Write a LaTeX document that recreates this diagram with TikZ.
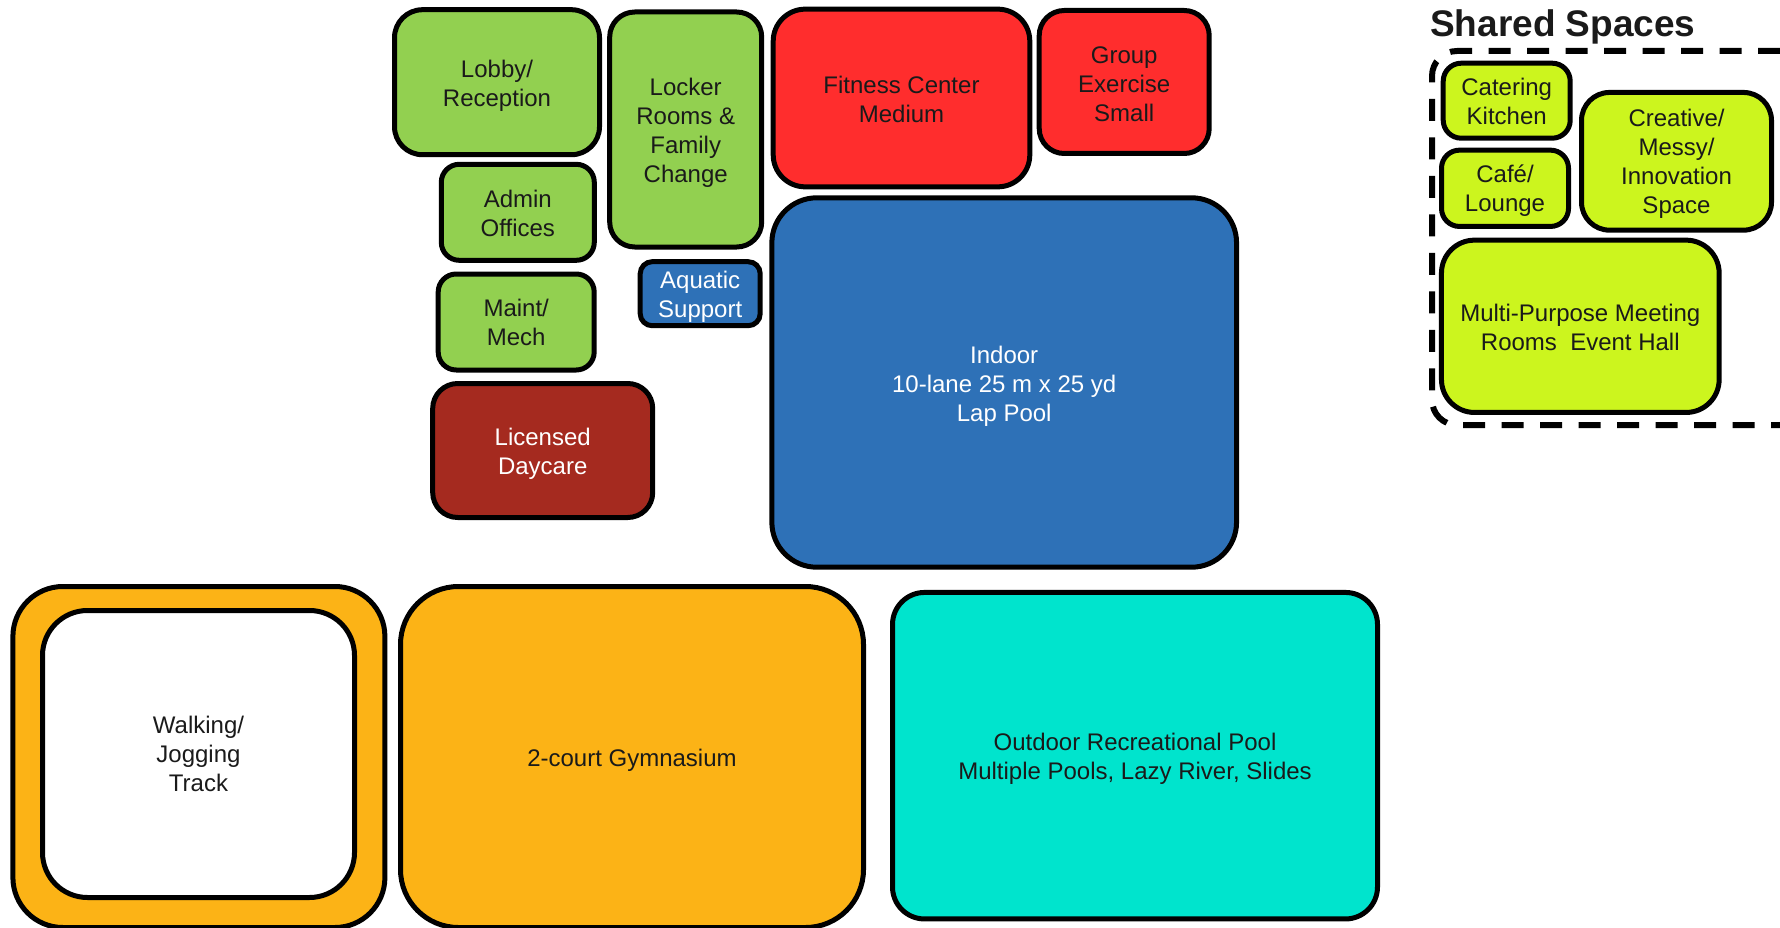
\documentclass[tikz,border=0pt]{standalone}
\usepackage{fontspec}
\setmainfont{Liberation Sans}
\definecolor{cgreen}{HTML}{92D050}
\definecolor{cred}{HTML}{FF2D2D}
\definecolor{cblue}{HTML}{2E71B7}
\definecolor{cday}{HTML}{A52A1F}
\definecolor{corange}{HTML}{FCB316}
\definecolor{cteal}{HTML}{00E4CD}
\definecolor{clime}{HTML}{CCF51E}
\definecolor{ctext}{HTML}{1A1A1A}
\begin{document}
\begin{tikzpicture}[x=1pt,y=-1pt,
  room/.style={draw=black, line width=5pt, inner sep=0pt},
  rt/.style={align=center, inner sep=0pt, font=\fontsize{24}{29}\selectfont, text=ctext, yshift=-3.5pt},
  rtw/.style={rt, text=white},
  frame/.style={draw=black, line width=6pt, dash pattern=on 22pt off 16.5pt, rounded corners=25pt, inner sep=0pt}]
\useasboundingbox (0,0) rectangle (1780,928);
\clip (0,0) rectangle (1780,928);
\fill[white] (0,0) rectangle (1780,928);

% upper block
\node[room, fill=cgreen, rounded corners=28pt, minimum width=205pt, minimum height=145pt,
  label={[rt]center:{Lobby/\\Reception}}] (lobby) at (497,82.2) {};
\node[room, fill=cgreen, rounded corners=25pt, minimum width=152pt, minimum height=235pt,
  label={[rt, yshift=0.5pt]center:{Locker\\Rooms \&\\Family\\Change}}] (locker) at (685.7,129.5) {};
\node[room, fill=cgreen, rounded corners=18pt, minimum width=153pt, minimum height=96pt,
  label={[rt, yshift=2.3pt]center:{Admin\\Offices}}] (admin) at (517.8,212.3) {};
\node[room, fill=cgreen, rounded corners=18pt, minimum width=156pt, minimum height=96pt,
  label={[rt, yshift=2.8pt]center:{Maint/\\Mech}}] (maint) at (516.2,322) {};
\node[room, fill=cblue, rounded corners=12pt, minimum width=120pt, minimum height=64pt,
  label={[rtw]center:{Aquatic\\Support}}] (aquatic) at (700.2,293.7) {};
\node[room, fill=cday, rounded corners=25pt, minimum width=220pt, minimum height=134pt,
  label={[rtw]center:{Licensed\\Daycare}}] (daycare) at (542.7,450.5) {};
\node[room, fill=cred, rounded corners=32pt, minimum width=256.6pt, minimum height=177.7pt,
  label={[rt, yshift=2.3pt]center:{Fitness Center\\Medium}}] (fitness) at (901.5,98) {};
\node[room, fill=cred, rounded corners=25pt, minimum width=170pt, minimum height=143pt,
  label={[rt, yshift=1.7pt]center:{Group\\Exercise\\Small}}] (group) at (1124.2,82) {};
\node[room, fill=cblue, rounded corners=45pt, minimum width=464.7pt, minimum height=369.4pt,
  label={[rtw]center:{Indoor\\10-lane 25 m x 25 yd\\Lap Pool}}] (lappool) at (1004.2,382.5) {};

% shared spaces
\node[anchor=base west, inner sep=0pt, font=\fontsize{37}{44}\selectfont\bfseries, text=ctext] (sharedtitle) at (1430,37) {Shared Spaces};
\node[frame, minimum width=373pt, minimum height=374pt] (sharedframe) at (1618.5,238) {};
\node[room, fill=clime, rounded corners=18pt, minimum width=127pt, minimum height=75pt,
  label={[rt, yshift=2.3pt]center:{Catering\\Kitchen}}] (catering) at (1506.7,100.7) {};
\node[room, fill=clime, rounded corners=18pt, minimum width=127pt, minimum height=76.3pt,
  label={[rt, yshift=1.1pt]center:{Café/\\Lounge}}] (cafe) at (1505,188.3) {};
\node[room, fill=clime, rounded corners=28pt, minimum width=190pt, minimum height=137.7pt,
  label={[rt, yshift=0.6pt]center:{Creative/\\Messy/\\Innovation\\Space}}] (creative) at (1676.5,161.3) {};
\node[room, fill=clime, rounded corners=33pt, minimum width=277.7pt, minimum height=172.3pt,
  label={[rt, yshift=2.3pt]center:{Multi-Purpose Meeting\\Rooms~ Event Hall}}] (multi) at (1580.3,326.3) {};

% bottom row
\node[room, fill=corange, rounded corners=50pt, minimum width=372pt, minimum height=341pt] (trackouter) at (198.9,757) {};
\node[room, fill=white, rounded corners=45pt, minimum width=312pt, minimum height=287pt,
  label={[rt, yshift=3.4pt]center:{Walking/\\Jogging\\Track}}] (track) at (198.5,754) {};
\node[room, fill=corange, rounded corners=58pt, minimum width=463pt, minimum height=341pt,
  label={[rt]center:{2-court Gymnasium}}] (gym) at (632,757) {};
\node[room, fill=cteal, rounded corners=32pt, minimum width=485pt, minimum height=326.5pt,
  label={[rt]center:{Outdoor Recreational Pool\\Multiple Pools, Lazy River, Slides}}] (outdoor) at (1135,755.7) {};
\end{tikzpicture}
\end{document}
